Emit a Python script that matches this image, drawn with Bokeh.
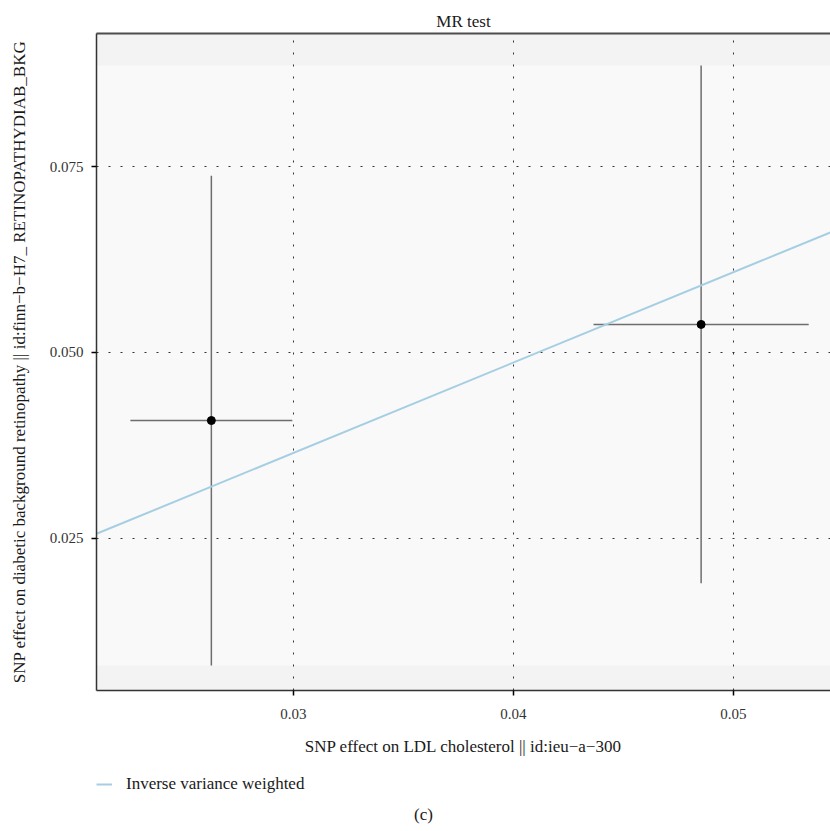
from bokeh.plotting import figure
from bokeh.layouts import column
from bokeh.models import (Range1d, LinearAxis, BoxAnnotation, Legend, LegendItem,
                          Label, NumeralTickFormatter, FixedTicker, ColumnDataSource)
from bokeh.embed import file_html
from bokeh.resources import INLINE

# ---- data ----
snp_exposure_beta = [0.02627, 0.04853]
snp_exposure_se = [0.00368, 0.00489]
snp_outcome_beta = [0.04084, 0.05377]
snp_outcome_se = [0.03295, 0.03484]
ivw_slope = 1.216
ivw_intercept = 0.0
method_label = "Inverse variance weighted"
x_ticks = [0.03, 0.04, 0.05]
y_ticks = [0.025, 0.050, 0.075]
caption = "(c)"

FONT = "Liberation Serif"
LINE_COLOR = "#a6cee3"
x_lo = [b - s for b, s in zip(snp_exposure_beta, snp_exposure_se)]
x_hi = [b + s for b, s in zip(snp_exposure_beta, snp_exposure_se)]
y_lo = [b - s for b, s in zip(snp_outcome_beta, snp_outcome_se)]
y_hi = [b + s for b, s in zip(snp_outcome_beta, snp_outcome_se)]

xr = Range1d(0.02105, 0.05441)
yr = Range1d(0.00451, 0.09292)

p = figure(width=830, height=762, x_range=xr, y_range=yr,
           output_backend="svg", toolbar_location=None,
           min_border_left=96, min_border_right=0, min_border_top=33,
           min_border_bottom=72)
p.background_fill_color = "#f3f3f3"
p.border_fill_color = "white"
p.outline_line_color = None

# lighter band over the data's y extent
p.add_layout(BoxAnnotation(bottom=min(y_lo), top=max(y_hi), fill_color="#f9f9f9",
                           fill_alpha=1.0, line_color=None, level="image"))

# title
p.title.text = "MR test"
p.title.align = "center"
p.title.text_font = FONT
p.title.text_font_size = "17px"
p.title.text_font_style = "normal"
p.title.text_color = "#1a1a1a"
p.title.standoff = 5

# grid
for g in (p.xgrid, p.ygrid):
    g.grid_line_color = "#333333"
    g.grid_line_dash = "2 10"
    g.grid_line_width = 1
p.xaxis.ticker = FixedTicker(ticks=x_ticks)
p.yaxis.ticker = FixedTicker(ticks=y_ticks)
p.xaxis.formatter = NumeralTickFormatter(format="0.00")
p.yaxis.formatter = NumeralTickFormatter(format="0.000")

for ax in (p.xaxis[0], p.yaxis[0]):
    ax.axis_line_color = "#333333"
    ax.axis_line_width = 1.5
    ax.major_tick_line_color = "black"
    ax.major_tick_line_width = 1.5
    ax.major_tick_out = 5
    ax.major_tick_in = 0
    ax.minor_tick_line_color = None
    ax.major_label_text_font = FONT
    ax.major_label_text_font_size = "15px"
    ax.major_label_text_color = "#333333"
    ax.axis_label_text_font = FONT
    ax.axis_label_text_font_size = "17px"
    ax.axis_label_text_font_style = "normal"
    ax.axis_label_text_color = "#1a1a1a"

p.xaxis.axis_label = "SNP effect on LDL cholesterol || id:ieu\u2212a\u2212300"
p.yaxis.axis_label = ("SNP effect on diabetic background retinopathy || "
                      "id:finn\u2212b\u2212H7_ RETINOPATHYDIAB_BKG")
p.xaxis.major_label_standoff = 13
p.xaxis.axis_label_standoff = 15
p.yaxis.major_label_standoff = 8
p.yaxis.axis_label_standoff = 18

# top border
top_ax = LinearAxis(ticker=FixedTicker(ticks=[]), major_label_text_font_size="0px",
                    major_tick_line_color=None, minor_tick_line_color=None,
                    axis_line_color="#4d4d4d", axis_line_width=2)
p.add_layout(top_ax, "above")

# error bars
src = ColumnDataSource(dict(x=snp_exposure_beta, y=snp_outcome_beta,
                            xl=x_lo, xh=x_hi, yl=y_lo, yh=y_hi))
p.segment(x0="x", y0="yl", x1="x", y1="yh", source=src, line_color="#6e6e6e", line_width=1.5)
p.segment(x0="xl", y0="y", x1="xh", y1="y", source=src, line_color="#6e6e6e", line_width=1.5)

# IVW line
lx = [xr.start, xr.end]
ly = [ivw_intercept + ivw_slope * v for v in lx]
p.line(lx, ly, line_color=LINE_COLOR, line_width=2)

p.scatter(x="x", y="y", source=src, size=8, fill_color="black", line_color="black")

# ---- legend + caption strip (its frame is aligned with the main frame) ----
p2 = figure(width=830, height=69, x_range=Range1d(0, 1), y_range=Range1d(0, 1),
            x_axis_type=None, y_axis_type=None, output_backend="svg",
            toolbar_location=None, min_border=0)
p2.outline_line_color = None
p2.grid.visible = False
p2.background_fill_color = "white"
# proxy renderer for the legend key (data lies outside the strip's range)
key_r = p2.line(x=[-2, -1], y=[-2, -1], line_color=LINE_COLOR, line_width=2)

legend = Legend(items=[LegendItem(label=method_label, renderers=[key_r])],
                location=(0, 37), orientation="horizontal",
                label_text_font=FONT, label_text_font_size="17px",
                label_text_color="#1a1a1a", glyph_width=16, glyph_height=16,
                label_standoff=14, background_fill_color="#f2f2f2",
                background_fill_alpha=0, border_line_color=None,
                margin=0, padding=0, spacing=0)
p2.add_layout(legend, "center")

p2.add_layout(Label(x=327, y=17, x_units="screen", y_units="screen", text=caption,
                    text_align="center", text_baseline="middle", text_font=FONT,
                    text_font_size="17px", text_color="#1a1a1a"))

layout = column(p, p2, spacing=0)
open("out.html", "w").write(file_html(layout, INLINE))
